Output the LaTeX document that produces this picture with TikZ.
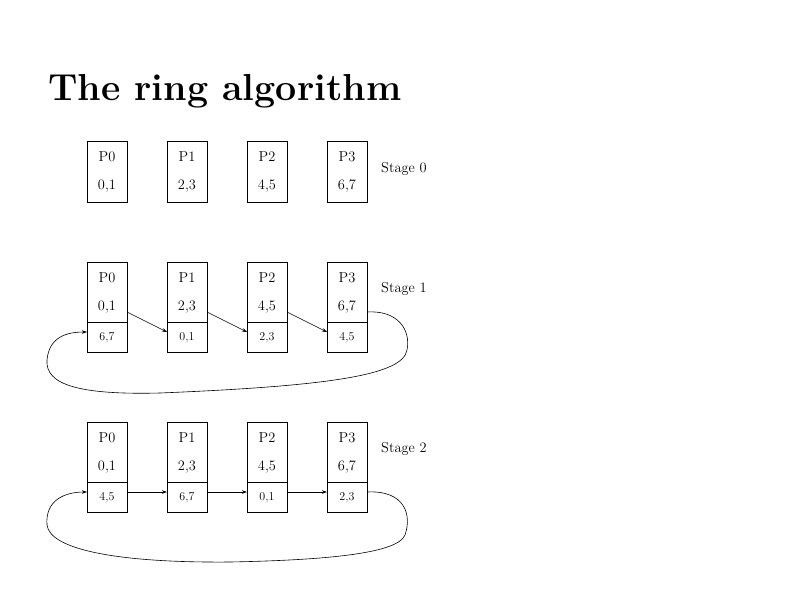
\documentclass[tikz,border=0pt]{standalone}
\usetikzlibrary{calc,arrows.meta}
\begin{document}
\begin{tikzpicture}[x=1pt,y=-1pt,
  cell/.style={draw, line width=0.8pt, minimum width=40pt, inner sep=0pt, outer sep=0pt},
  lbl/.style={font=\fontsize{14.4}{17}\selectfont, inner sep=0pt},
  sml/.style={font=\fontsize{12}{14}\selectfont, inner sep=0pt},
  stg/.style={font=\fontsize{14.4}{17}\selectfont, inner sep=0pt, anchor=base west},
  link/.style={-{Stealth[length=5pt,width=3.5pt]}, line width=0.6pt}]
\useasboundingbox (0,0) rectangle (800,600);
\node[anchor=base west, inner sep=0pt, font=\fontsize{37.6}{40}\selectfont\bfseries] (title) at (48,100) {The ring algorithm};

% Stage 0
\foreach \i/\x/\v in {0/107/{0,1},1/187/{2,3},2/267/{4,5},3/347/{6,7}} {
  \node[cell, minimum height=61pt] (s0u\i) at (\x,171.5) {};
  \node[lbl] (s0p\i) at (\x,157) {P\i};
  \node[lbl] (s0v\i) at (\x,186) {\v};
}
\node[stg] (stage0) at (381,172) {Stage 0};

% Stage 1
\foreach \i/\x/\v/\w in {0/107/{0,1}/{6,7},1/187/{2,3}/{0,1},2/267/{4,5}/{2,3},3/347/{6,7}/{4,5}} {
  \node[cell, minimum height=60pt] (s1u\i) at (\x,292) {};
  \node[cell, minimum height=30pt] (s1d\i) at (\x,337) {};
  \node[lbl] (s1p\i) at (\x,278) {P\i};
  \node[lbl] (s1v\i) at (\x,307) {\v};
  \node[sml] (s1w\i) at (\x,337.5) {\w};
}
\node[stg] (stage1) at (381,292) {Stage 1};
\foreach \a/\b in {0/1,1/2,2/3}
  \draw[link] ($(s1u\a.south east)+(0,-10)$) -- ($(s1d\b.west)+(0,-5)$);
\draw[link] ($(s1u3.south east)+(0,-10)$)
  .. controls (398,310) and (411,330) .. (407,350)
  .. controls (403,375) and (330,386) .. (160,393)
  .. controls (80,395) and (45,385) .. (47,360)
  .. controls (49,338) and (65,332) .. ($(s1d0.west)+(0,-5)$);

% Stage 2
\foreach \i/\x/\v/\w in {0/107/{0,1}/{4,5},1/187/{2,3}/{6,7},2/267/{4,5}/{0,1},3/347/{6,7}/{2,3}} {
  \node[cell, minimum height=60pt] (s2u\i) at (\x,452) {};
  \node[cell, minimum height=30pt] (s2d\i) at (\x,497) {};
  \node[lbl] (s2p\i) at (\x,438) {P\i};
  \node[lbl] (s2v\i) at (\x,467) {\v};
  \node[sml] (s2w\i) at (\x,497.5) {\w};
}
\node[stg] (stage2) at (381,452) {Stage 2};
\foreach \a/\b in {0/1,1/2,2/3}
  \draw[link] ($(s2d\a.east)+(0,-5)$) -- ($(s2d\b.west)+(0,-5)$);
\draw[link] ($(s2d3.east)+(0,-5)$)
  .. controls (405,490) and (412,515) .. (405,535)
  .. controls (398,553) and (330,560) .. (230,562)
  .. controls (120,563) and (50,550) .. (47,525)
  .. controls (45,500) and (65,492) .. ($(s2d0.west)+(0,-5)$);
\end{tikzpicture}
\end{document}
